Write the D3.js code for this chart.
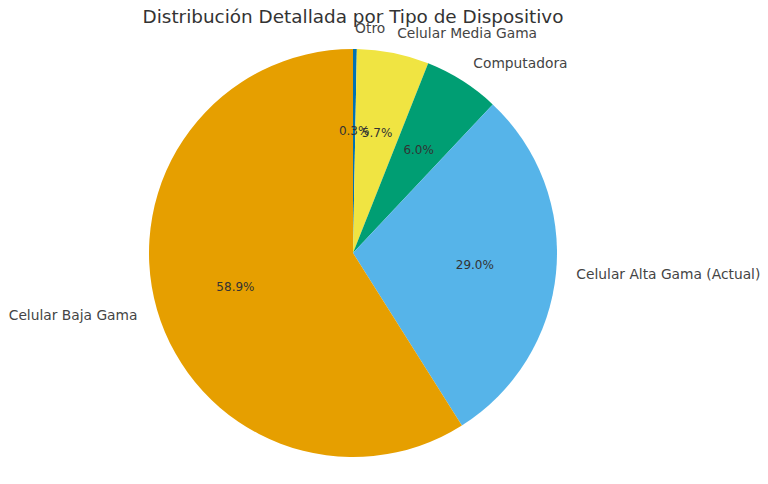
<!DOCTYPE html>
<html><head><meta charset="utf-8">
<script src="https://cdn.jsdelivr.net/npm/d3@7"></script>
<style>body{margin:0;background:#fff}</style>
</head><body>
<svg id="chart" width="768" height="484"></svg>
<script>
// slices in drawing order, clockwise from 12 o'clock
var categories = ['Otro', 'Celular Media Gama', 'Computadora', 'Celular Alta Gama (Actual)', 'Celular Baja Gama'];
var values = [0.3, 5.7, 6.0, 29.0, 58.9];
var colors = ['#0072B2', '#F0E442', '#009E73', '#56B4E9', '#E69F00'];

var svg = d3.select('#chart'),
    cx = 353, cy = 253, r = 204;

svg.append('text')
    .attr('x', 353).attr('y', 23)
    .attr('text-anchor', 'middle')
    .style('font', '18.4px "DejaVu Sans"').style('fill', '#333')
    .text('Distribución Detallada por Tipo de Dispositivo');

var pie = d3.pie().sort(null)(values);
var arc = d3.arc().innerRadius(0).outerRadius(r);
var g = svg.append('g').attr('transform', 'translate(' + cx + ',' + cy + ')');

g.selectAll('path').data(pie).enter().append('path')
    .attr('d', arc)
    .attr('fill', function (d, i) { return colors[i]; });

function mid(d) { return (d.startAngle + d.endAngle) / 2; }

g.selectAll('.lab').data(pie).enter().append('text')
    .attr('x', function (d) { return Math.sin(mid(d)) * r * 1.1; })
    .attr('y', function (d) { return -Math.cos(mid(d)) * r * 1.1; })
    .attr('dy', '0.35em')
    .attr('text-anchor', function (d) { return Math.sin(mid(d)) >= 0 ? 'start' : 'end'; })
    .style('font', '13.8px "DejaVu Sans"').style('fill', '#444')
    .text(function (d, i) { return categories[i]; });

g.selectAll('.pct').data(pie).enter().append('text')
    .attr('x', function (d) { return Math.sin(mid(d)) * r * 0.6; })
    .attr('y', function (d) { return -Math.cos(mid(d)) * r * 0.6; })
    .attr('dy', '0.35em')
    .attr('text-anchor', 'middle')
    .style('font', '12px "DejaVu Sans"').style('fill', '#333')
    .text(function (d) { return d.data.toFixed(1) + '%'; });
</script>
</body></html>
